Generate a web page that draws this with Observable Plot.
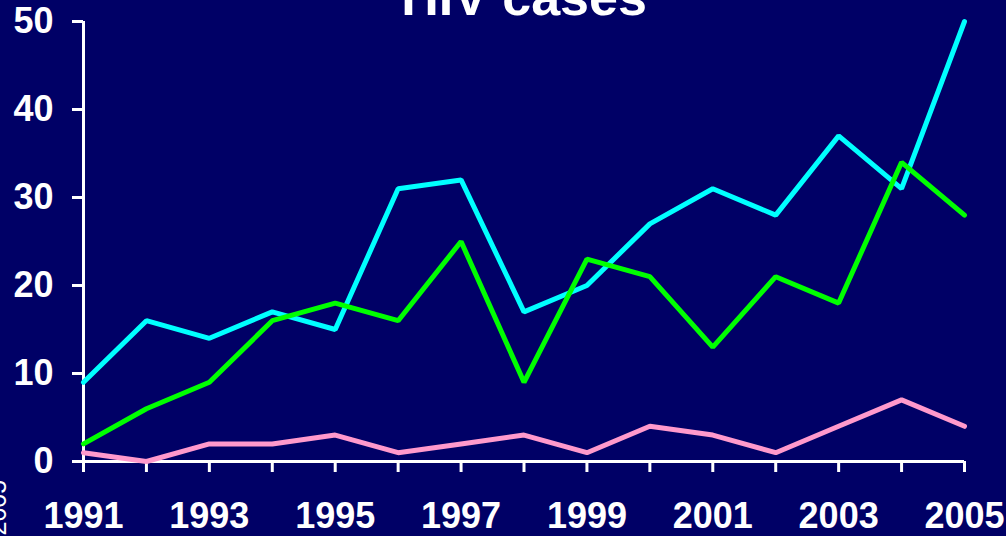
<!DOCTYPE html>
<html>
<head>
<meta charset="utf-8">
<script src="https://cdn.jsdelivr.net/npm/d3@7"></script>
<script src="https://cdn.jsdelivr.net/npm/@observablehq/plot@0.6"></script>
<style>
  html, body { margin: 0; padding: 0; background: #000066; }
  #chart { width: 1006px; height: 536px; overflow: hidden; }
</style>
</head>
<body>
<div id="chart"></div>
<script>
const years = [1991, 1992, 1993, 1994, 1995, 1996, 1997, 1998, 1999, 2000, 2001, 2002, 2003, 2004, 2005];
const seriesNames = ["Series 1", "Series 2", "Series 3"];
const seriesColors = ["#00ffff", "#00ff00", "#ff99cc"];
const series1 = [9, 16, 14, 17, 15, 31, 32, 17, 20, 27, 31, 28, 37, 31, 50];
const series2 = [2, 6, 9, 16, 18, 16, 25, 9, 23, 21, 13, 21, 18, 34, 28];
const series3 = [1, 0, 2, 2, 3, 1, 2, 3, 1, 4, 3, 1, 4, 7, 4];
const yTicks = [0, 10, 20, 30, 40, 50];
const titleText = "HIV cases";
const captionText = "2005";

const allSeries = [series1, series2, series3];
const data = allSeries.flatMap((vals, i) => vals.map((v, j) => ({year: years[j], value: v, series: seriesNames[i]})));

const font = "'Liberation Sans', Arial, sans-serif";
const chart = Plot.plot({
  width: 1006,
  height: 536,
  marginLeft: 83,
  marginRight: 42,
  marginTop: 21,
  marginBottom: 75,
  style: {background: "#000066", color: "white", fontFamily: font, overflow: "visible"},
  x: {domain: [1991, 2005]},
  y: {domain: [0, 50]},
  color: {domain: seriesNames, range: seriesColors},
  marks: [
    Plot.axisY({ticks: yTicks, tickSize: 11, tickPadding: 19, stroke: "white", strokeWidth: 3, fill: "white",
      fontSize: 36, fontWeight: "bold", label: null}),
    Plot.axisX({ticks: years, tickSize: 11, tickPadding: 30, stroke: "white", strokeWidth: 3, fill: "white",
      fontSize: 36, fontWeight: "bold", label: null, tickFormat: d => (d % 2 ? String(d) : "")}),
    Plot.ruleX([1991], {stroke: "white", strokeWidth: 3}),
    Plot.ruleY([0], {stroke: "white", strokeWidth: 3}),
    Plot.line(data, {x: "year", y: "value", z: "series", stroke: "series", strokeWidth: 5,
      strokeLinecap: "round", strokeLinejoin: "miter"}),
    Plot.text([titleText], {frameAnchor: "top", dy: -7, lineAnchor: "bottom", fontSize: 52, fontWeight: "bold", fill: "white"}),
    Plot.text([captionText], {frameAnchor: "bottom-left", dx: -78, dy: 74, rotate: -90, textAnchor: "start",
      lineAnchor: "bottom", fontSize: 25, fill: "white"})
  ]
});
document.getElementById("chart").appendChild(chart);
</script>
</body>
</html>
